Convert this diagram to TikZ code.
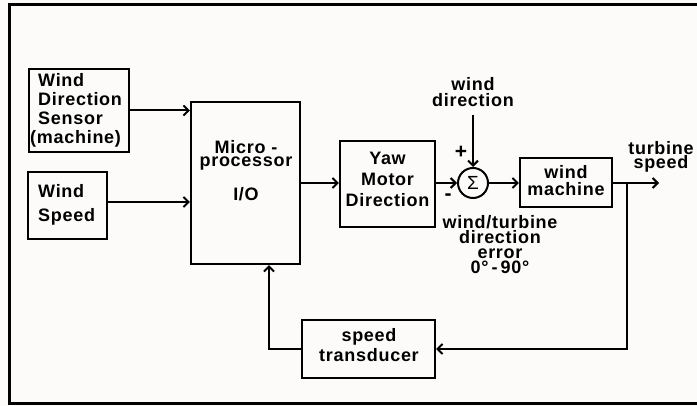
\documentclass[tikz,border=0pt]{standalone}
\usepackage{fontspec}
\setmainfont{Liberation Sans}[LetterSpace=4]
\usetikzlibrary{arrows.meta,calc}
\lineskiplimit=-100pt
\definecolor{bg}{RGB}{252,251,250}
\newcommand\bfs[1]{\fontsize{18}{#1}\selectfont\bfseries}
\begin{document}
\begin{tikzpicture}[x=1pt,y=-1pt,
  box/.style={draw, line width=2.2pt, inner sep=0pt},
  txt/.style={inner sep=0pt, anchor=north, align=center},
  conn/.style={line width=2pt, -{Straight Barb[length=5pt,width=10pt,line width=2pt]}},
  plain/.style={line width=2pt}]
\fill[bg] (0,0) rectangle (697,406);
\useasboundingbox (0,0) rectangle (697,406);
% frame
\draw[line width=3pt] (697,5) -- (9,5) -- (9,404) -- (697,404);
% boxes
\node[box, minimum width=100pt, minimum height=83pt] (wds) at (79,110.5) {};
\node[box, minimum width=79pt, minimum height=67pt] (ws) at (67.5,205.5) {};
\node[box, minimum width=109pt, minimum height=162pt] (micro) at (245.5,183) {};
\node[box, minimum width=95pt, minimum height=86pt] (yaw) at (387.5,184) {};
\node[draw, circle, line width=2pt, minimum size=30pt, inner sep=0pt,
      font=\fontsize{19}{19}\selectfont] (sum) at (473,183) {Σ};
\node[box, minimum width=92pt, minimum height=49pt] (wm) at (566,182.5) {};
\node[box, minimum width=133pt, minimum height=58pt] (st) at (368.5,349) {};
% texts
\node[txt, anchor=north west, align=left, font=\bfs{19}] (wdst) at (38,73.3)
  {Wind\\Direction\\Sensor\\\hspace*{-8pt}(machine)};
\node[txt, anchor=north west, align=left, font=\bfs{24}] (wst) at (38,184.3)
  {Wind\\Speed};
\node[txt, font=\bfs{13}] (microt) at (246,140.3)
  {Micro -\\processor\\[21pt]I/O};
\node[txt, font=\bfs{21}] (yawt) at (387.5,152.3)
  {Yaw\\Motor\\Direction};
\node[txt, font=\bfs{17}] (wmt) at (566,165.3)
  {wind\\machine};
\node[txt, font=\bfs{20}] (stt) at (369,328.3)
  {speed\\transducer};
\node[txt, font=\bfs{16}] (wd) at (473,77.3)
  {wind\\direction};
\node[txt, font=\bfs{14}] (ts) at (661,141.3)
  {turbine\\speed};
\node[txt, font=\bfs{15}] (err) at (500,215.3)
  {wind/turbine\\direction\\error\\0°\,-\,90°};
\node[font=\fontsize{21}{21}\selectfont\bfseries, inner sep=0pt] (plus) at (461,152) {+};
\node[font=\fontsize{21}{21}\selectfont\bfseries, inner sep=0pt] (minus) at (448,197) {-};
% connectors
\coordinate (out) at (659,183);
\coordinate (br) at (627,183);
\draw[conn] (wds.east) -- (wds.east -| micro.west);
\draw[conn] ([yshift=3.5pt]ws.east) -- ([yshift=3.5pt]ws.east -| micro.west);
\draw[conn] (micro.east) -- (micro.east -| yaw.west);
\draw[conn] (sum.west -| yaw.east) -- (sum.west);
\draw[conn] ([yshift=-8pt]wd.south) -- (sum.north);
\draw[conn] (sum.east) -- (sum.east -| wm.west);
\draw[conn] (wm.east |- out) -- (out);
\draw[conn] (br) |- (st.east);
\draw[conn] (st.west) -| ([xshift=23.5pt]micro.south);
\end{tikzpicture}
\end{document}
